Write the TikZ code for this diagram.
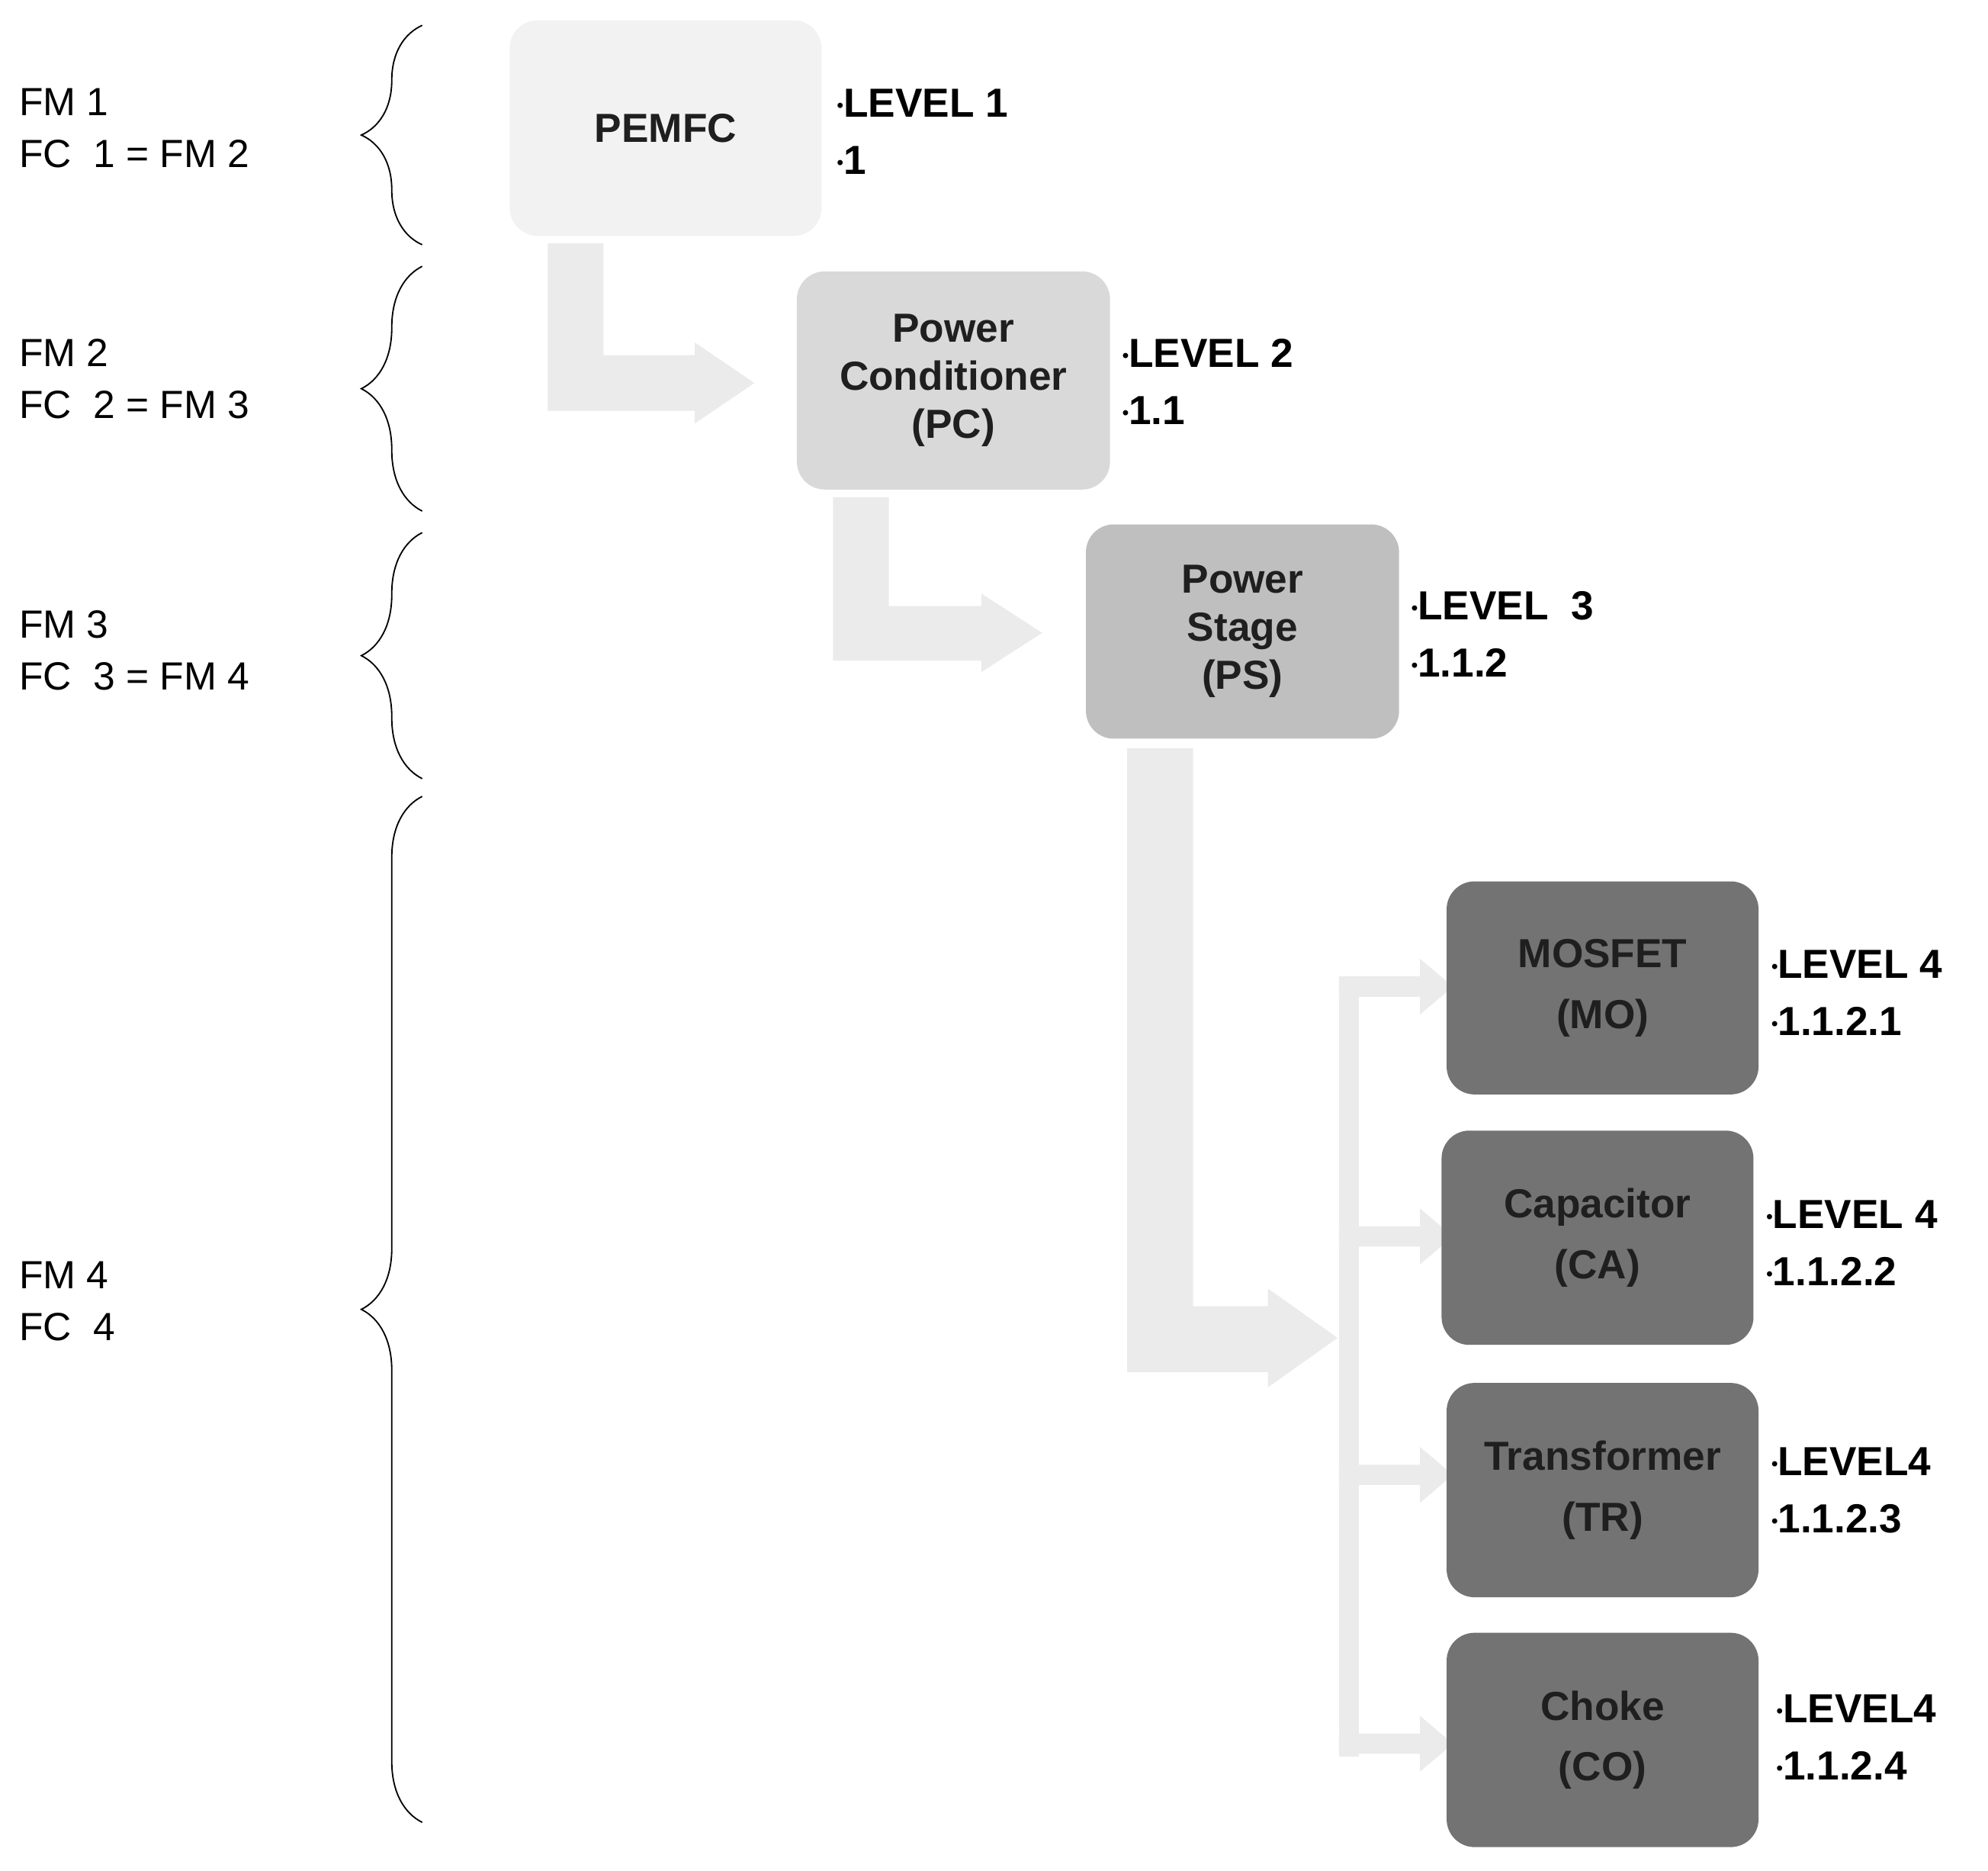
\documentclass[tikz,border=0pt]{standalone}
\usepackage{fontspec}
\setmainfont{Liberation Sans}
\usetikzlibrary{decorations.pathreplacing}
\newcommand{\bul}{\raisebox{0.25ex}{\scalebox{0.45}{\textbullet}}}
\begin{document}
\begin{tikzpicture}[x=1pt,y=-1pt,
  box/.style={rounded corners=22pt,inner sep=0pt,font=\fontsize{32}{38}\selectfont\bfseries,align=center,text=black!88},
  lvl/.style={anchor=west,font=\fontsize{32}{45}\selectfont\bfseries,align=left,inner sep=0pt},
  fm/.style={anchor=west,font=\fontsize{31}{41}\selectfont,align=left,inner sep=0pt},
  arr/.style={fill=black!8,draw=none},
  br/.style={draw=black,line width=1.1pt,decorate,decoration={brace,amplitude=48pt,aspect=0.5}}]
\useasboundingbox (0,0) rectangle (1568,1475);
\definecolor{g1}{HTML}{F2F2F2}\definecolor{g2}{HTML}{D9D9D9}\definecolor{g3}{HTML}{BFBFBF}\definecolor{g4}{HTML}{737373}
% arrows
\fill[arr] (432,192)--(476,192)--(476,280)--(548,280)--(548,270)--(595,302)--(548,334)--(548,324)--(432,324)--cycle;
\fill[arr] (657,392)--(701,392)--(701,478)--(774,478)--(774,468)--(822,499)--(774,530)--(774,521)--(657,521)--cycle;
\fill[arr] (889,590)--(941,590)--(941,1030)--(1000,1030)--(1000,1016)--(1055,1055)--(1000,1094)--(1000,1082)--(889,1082)--cycle;
\fill[arr] (1056,770) rectangle (1072,1385);
\foreach \yy in {778,975,1163,1375}{
  \fill[arr] (1056,\yy-8)--(1120,\yy-8)--(1120,\yy-22)--(1146,\yy)--(1120,\yy+22)--(1120,\yy+8)--(1056,\yy+8)--cycle;}
% boxes
\node[box,fill=g1,minimum width=246pt,minimum height=170pt] (pemfc) at (525,101) {PEMFC};
\node[box,fill=g2,minimum width=247pt,minimum height=172pt] (pc) at (752,300) {Power\\Conditioner\\(PC)};
\node[box,fill=g3,minimum width=247pt,minimum height=169pt] (ps) at (980,498) {Power\\Stage\\(PS)};
\node[box,fill=g4,minimum width=246pt,minimum height=168pt] (mo) at (1264,779) {MOSFET\\[10pt](MO)};
\node[box,fill=g4,minimum width=246pt,minimum height=169pt] (ca) at (1260,976) {Capacitor\\[10pt](CA)};
\node[box,fill=g4,minimum width=246pt,minimum height=169pt] (tr) at (1264,1175) {Transformer\\[10pt](TR)};
\node[box,fill=g4,minimum width=246pt,minimum height=169pt] (co) at (1264,1372) {Choke\\[10pt](CO)};
% level labels
\node[lvl] (l1) at (660,104) {\bul LEVEL 1\\\bul 1};
\node[lvl] (l2) at (885,301) {\bul LEVEL 2\\\bul 1.1};
\node[lvl] (l3) at (1113,500) {\bul LEVEL\ \ 3\\\bul 1.1.2};
\node[lvl] (l4) at (1397,783) {\bul LEVEL 4\\\bul 1.1.2.1};
\node[lvl] (l5) at (1393,980) {\bul LEVEL 4\\\bul 1.1.2.2};
\node[lvl] (l6) at (1397,1175) {\bul LEVEL4\\\bul 1.1.2.3};
\node[lvl] (l7) at (1401,1370) {\bul LEVEL4\\\bul 1.1.2.4};
% left labels
\node[fm] (f1) at (15,101) {FM 1\\FC\ \ 1 = FM 2};
\node[fm] (f2) at (15,299) {FM 2\\FC\ \ 2 = FM 3};
\node[fm] (f3) at (15,513) {FM 3\\FC\ \ 3 = FM 4};
\node[fm] (f4) at (15,1026) {FM 4\\FC\ \ 4};
% braces
\draw[br] (333,193) -- (333,20);
\draw[br] (333,403) -- (333,210);
\draw[br] (333,614) -- (333,420);
\draw[br] (333,1437) -- (333,628);
\end{tikzpicture}
\end{document}
